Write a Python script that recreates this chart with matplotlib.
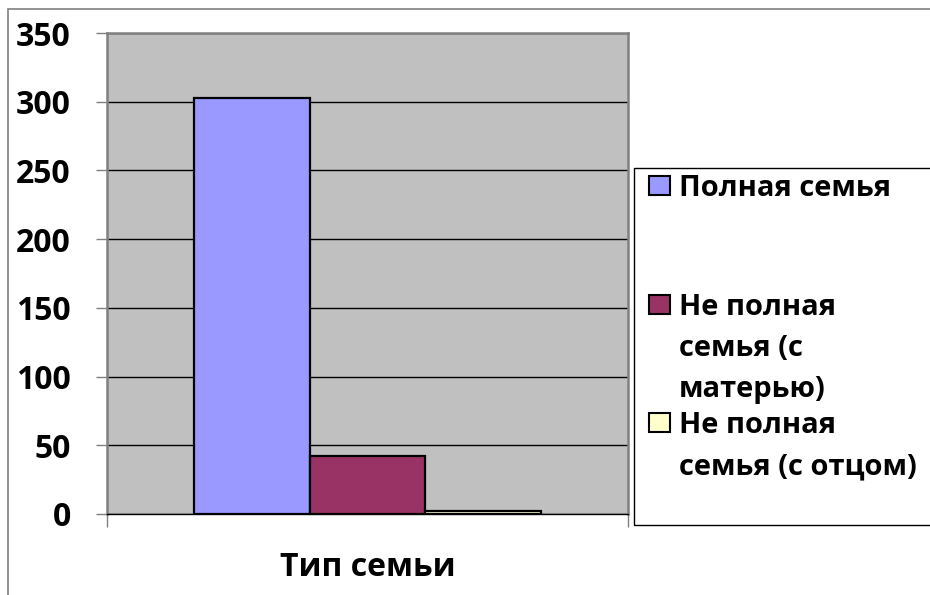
import matplotlib.pyplot as plt
from matplotlib.patches import Rectangle

plt.rcParams['font.family'] = ['Open Sans', 'DejaVu Sans']
plt.rcParams['font.weight'] = 'bold'

# data
category = "Тип семьи"
series = ["Полная семья", "Не полная семья (с матерью)", "Не полная семья (с отцом)"]
legend_labels = [["Полная семья"], ["Не полная", "семья (с", "матерью)"], ["Не полная", "семья (с отцом)"]]
values = [303, 42, 2]
colors = ["#9999FF", "#993366", "#FFFFCC"]
yticks = [0, 50, 100, 150, 200, 250, 300, 350]

W, H = 930, 595
fig = plt.figure(figsize=(W / 100, H / 100), dpi=100)

def fx(px):
    return px / W

def fy(py):
    return 1 - py / H

# chart area frame
fig.patches.append(Rectangle((fx(8), fy(620)), fx(960) - fx(8), fy(9) - fy(620),
                             transform=fig.transFigure, fill=False,
                             edgecolor="#808080", linewidth=1.2))

ax = fig.add_axes([fx(107), fy(514), fx(628) - fx(107), fy(33) - fy(514)])
ax.set_facecolor("#C0C0C0")

w = 1 / 4.5
for i, (v, c) in enumerate(zip(values, colors)):
    ax.bar(0.75 * w + i * w, v, width=w, align="edge", color=c,
           edgecolor="black", linewidth=1.6, zorder=3)

ax.set_xlim(0, 1)
ax.set_ylim(0, 350)
ax.set_yticks(yticks)
ax.set_yticklabels([str(t) for t in yticks], fontsize=23, fontweight="bold")
ax.yaxis.grid(True, color="black", linewidth=1.0, zorder=1)
ax.set_axisbelow(True)
ax.tick_params(axis="y", length=8, width=1.0, color="#808080", pad=18)

ax.set_xticks([0, 1])
ax.set_xticklabels(["", ""])
ax.tick_params(axis="x", length=9.5, width=1.0, color="#808080")
ax.set_xlabel(category, fontsize=23, fontweight="bold", labelpad=14)

for s in ["left", "top", "right"]:
    ax.spines[s].set_color("#808080")
    ax.spines[s].set_linewidth(1.8)
ax.spines["bottom"].set_color("black")
ax.spines["bottom"].set_linewidth(1.0)

# legend
fig.patches.append(Rectangle((fx(634), fy(525)), fx(960) - fx(634), fy(168) - fy(525),
                             transform=fig.transFigure, fill=False,
                             edgecolor="black", linewidth=1.0))
baselines = [196, 315, 433]
line_step = 41
for lines, c, b in zip(legend_labels, colors, baselines):
    fig.patches.append(Rectangle((fx(649), fy(b - 1)), fx(670) - fx(649), fy(b - 20) - fy(b - 1),
                                 transform=fig.transFigure, facecolor=c,
                                 edgecolor="black", linewidth=1.5))
    for k, line in enumerate(lines):
        fig.text(fx(679), fy(b + k * line_step), line, fontsize=21, fontweight="bold",
                 va="baseline", ha="left")

fig.savefig("out.png", dpi=100)
